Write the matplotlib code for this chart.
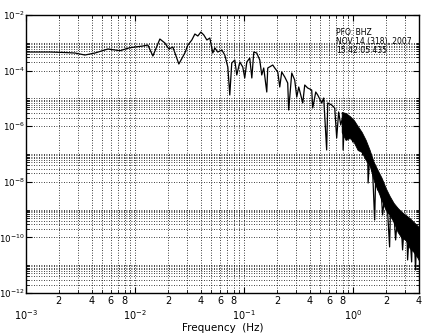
import matplotlib
matplotlib.use("Agg")
import matplotlib.pyplot as plt
import matplotlib.ticker as mticker
import numpy as np

# log10(frequency) and log10(power)
trace_f = [-3.000, -2.918, -2.780, -2.643, -2.551, -2.460, -2.368, -2.249, -2.139, -2.048,
           -1.929, -1.883, -1.837, -1.773, -1.727, -1.690, -1.654, -1.599, -1.544, -1.516,
           -1.480, -1.452, -1.425, -1.397, -1.370, -1.342, -1.315, -1.288, -1.269, -1.242,
           -1.205, -1.178, -1.150, -1.132, -1.114, -1.086, -1.068, -1.040, -1.013, -0.995,
           -0.976, -0.949, -0.930, -0.912, -0.885, -0.857, -0.839, -0.821, -0.793, -0.784,
           -0.738, -0.720, -0.692, -0.674, -0.656, -0.628, -0.601, -0.592, -0.564, -0.537,
           -0.518, -0.500, -0.463, -0.445, -0.418, -0.381, -0.372, -0.344, -0.326, -0.289,
           -0.271, -0.244, -0.234, -0.198, -0.170, -0.152,
           -0.134, -0.115, -0.097, -0.093, -0.079, -0.060, -0.051, -0.033, -0.024, -0.005,
           0.013, 0.031, 0.040, 0.059, 0.077, 0.086, 0.104, 0.123, 0.132, 0.136,
           0.150, 0.168, 0.178, 0.196, 0.205, 0.223, 0.242, 0.260, 0.269, 0.288,
           0.306, 0.315, 0.333, 0.342, 0.361, 0.379, 0.388, 0.407, 0.425, 0.443,
           0.452, 0.471, 0.489, 0.498, 0.516, 0.535, 0.544, 0.562, 0.571, 0.581,
           0.590, 0.599]
trace_p = [-3.331, -3.331, -3.331, -3.349, -3.367, -3.439, -3.367, -3.223, -3.284, -3.176,
           -3.115, -3.079, -3.475, -2.863, -3.007, -3.223, -3.151, -3.763, -3.367, -3.079,
           -2.899, -2.683, -2.755, -2.612, -2.719, -2.899, -2.827, -3.367, -3.187, -3.331,
           -3.259, -3.439, -3.871, -4.878, -3.727, -3.619, -4.158, -3.691, -3.871, -4.266,
           -3.691, -3.547, -4.266, -3.331, -3.367, -3.619, -4.158, -3.906, -4.770, -3.906,
           -3.799, -3.906, -4.050, -4.590, -4.050, -4.230, -4.446, -5.417, -4.086, -4.338,
           -4.950, -4.590, -5.165, -4.518, -4.626, -4.698, -5.345, -4.770, -4.878, -5.165,
           -4.986, -6.856, -5.165, -5.237, -5.345, -6.424,
           -5.489, -5.957, -5.669, -6.856, -5.597, -6.137, -5.669, -6.317, -5.777, -6.568,
           -5.849, -6.496, -6.137, -6.784, -6.388, -7.036, -6.748, -7.216, -6.964, -8.043,
           -7.144, -7.576, -7.683, -9.374, -7.863, -8.295, -8.187, -8.655, -9.194, -8.475,
           -8.583, -9.086, -10.345, -8.835, -8.906, -9.554, -10.094, -9.194, -9.266, -9.806,
           -10.453, -9.302, -9.374, -10.813, -9.662, -10.885, -9.482, -10.273, -11.173, -9.914,
           -9.734, -10.633]

# thick noisy band at high frequency: upper / lower edge
band_f = [-0.106, -0.070, -0.033, 0.004, 0.040, 0.077, 0.114,
          0.150, 0.187, 0.223, 0.260, 0.297, 0.333, 0.370, 0.407, 0.443, 0.480,
          0.516, 0.553, 0.590, 0.608]
band_hi = [-5.489, -5.525, -5.633, -5.777, -5.993, -6.209, -6.496,
           -6.856, -7.288, -7.576, -7.863, -8.223, -8.511, -8.763, -8.942, -9.086, -9.194,
           -9.302, -9.446, -9.590, -9.662]
band_lo = [-6.209, -6.496, -6.424, -6.568, -6.856, -6.928, -7.216,
           -7.396, -7.935, -8.295, -8.655, -9.014, -9.194, -9.446, -9.806, -10.022, -10.094,
           -10.381, -10.525, -10.741, -10.885]

title_lines = ["PFO: BHZ", "NOV 14 (318), 2007", "15:42:05.435"]

fig = plt.figure(figsize=(4.41, 3.34), dpi=100)
ax = fig.add_axes([0.059, 0.123, 0.891, 0.832])

ax.fill_between(10 ** np.array(band_f), 10 ** np.array(band_lo), 10 ** np.array(band_hi),
                color="black", lw=0.6)
ax.plot(10 ** np.array(trace_f), 10 ** np.array(trace_p), color="black", lw=0.9)

ax.set_xscale("log")
ax.set_yscale("log")
ax.set_xlim(1e-3, 4)
ax.set_ylim(1e-12, 1e-2)

# x ticks
ax.xaxis.set_major_locator(mticker.FixedLocator([1e-3, 1e-2, 1e-1, 1e0]))
ax.xaxis.set_major_formatter(mticker.FixedFormatter(["$10^{-3}$", "$10^{-2}$", "$10^{-1}$", "$10^{0}$"]))
xminor = []
xminor_lab = []
for k in range(-3, 1):
    for m in range(2, 10):
        v = m * 10.0 ** k
        if v <= 4.0001:
            xminor.append(v)
            xminor_lab.append(str(m) if m in (2, 4, 6, 8) else "")
ax.xaxis.set_minor_locator(mticker.FixedLocator(xminor))
ax.xaxis.set_minor_formatter(mticker.FixedFormatter(xminor_lab))

# y ticks every two decades, minor only in the decade above each major
ymajor = [10.0 ** k for k in range(-12, -1, 2)]
ax.yaxis.set_major_locator(mticker.FixedLocator(ymajor))
ax.yaxis.set_major_formatter(mticker.FixedFormatter(["$10^{%d}$" % k for k in range(-12, -1, 2)]))
yminor = [m * 10.0 ** k for k in range(-12, -3, 2) for m in range(2, 11)]
ax.yaxis.set_minor_locator(mticker.FixedLocator(yminor))
ax.yaxis.set_minor_formatter(mticker.NullFormatter())

ax.grid(True, which="both", color="black", ls=(0, (1, 2)), lw=0.6)
ax.tick_params(which="both", direction="in", top=True, right=True, color="black")
ax.tick_params(axis="x", which="both", labelsize=7)
ax.tick_params(axis="y", which="both", labelsize=6.3)
ax.tick_params(which="major", length=4)
ax.tick_params(which="minor", length=2.5)
ax.tick_params(axis="x", which="major", pad=11)
ax.tick_params(axis="x", which="minor", pad=2)
ax.tick_params(axis="y", which="major", pad=1)
for s in ax.spines.values():
    s.set_linewidth(1.0)

ax.set_xlabel("Frequency  (Hz)", fontsize=7.5, labelpad=1)

ax.text(0.79, 0.955, "\n".join(title_lines), transform=ax.transAxes, fontsize=5.5,
        va="top", ha="left", linespacing=1.05)

fig.savefig("out.png", dpi=100)
